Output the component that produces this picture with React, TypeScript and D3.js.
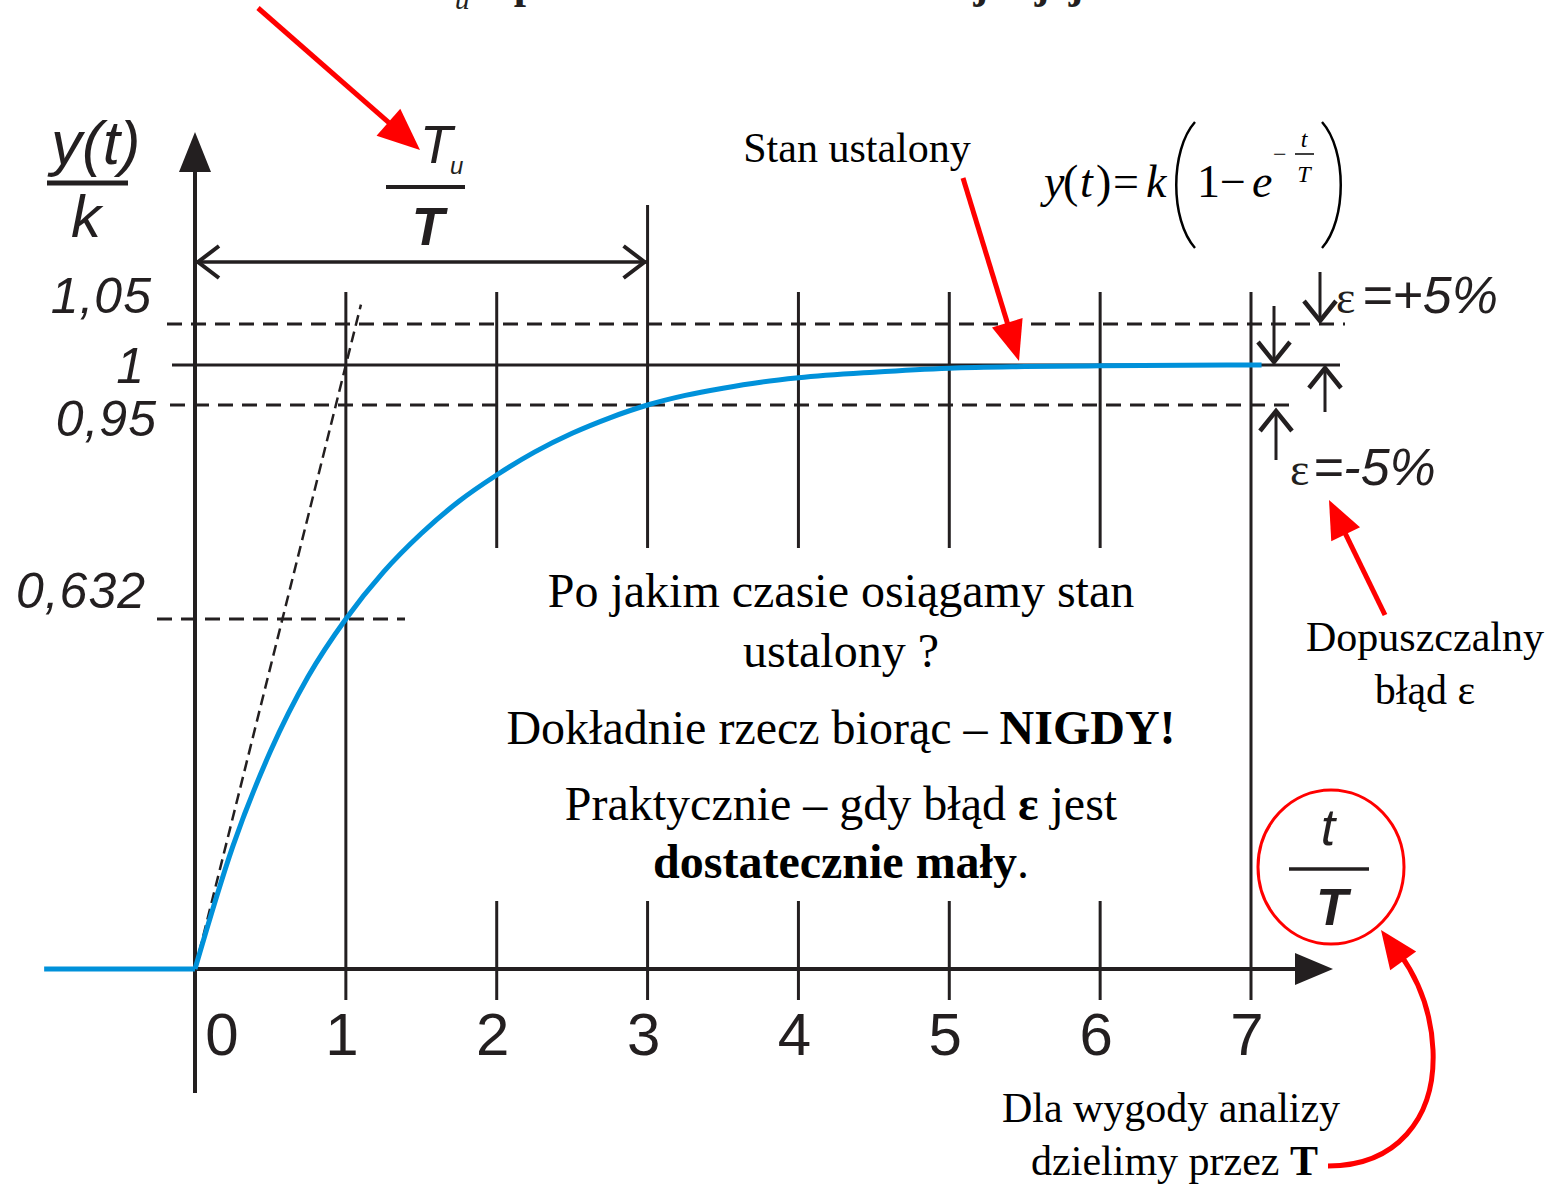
import React from 'react';
import * as d3 from 'd3';

// time axis, in multiples of the time constant T
const tTicks = [0, 1, 2, 3, 4, 5, 6, 7];
const tTickLabels = ['0', '1', '2', '3', '4', '5', '6', '7'];

// levels marked on the y/k axis
const yLevels = [0, 0.632, 0.95, 1, 1.05];
const yLevelLabels = ['', '0,632', '0,95', '1', '1,05'];

// step response y(t)/k of a first-order element
const respT = [0, 0.25, 0.5, 0.75, 1, 1.25, 1.5, 1.75, 2, 2.25, 2.5, 2.75, 3, 3.25, 3.5, 3.75, 4, 4.5, 5, 5.5, 6, 7, 7.07];
const respY = [0, 0.221, 0.393, 0.528, 0.632, 0.702, 0.759, 0.807, 0.846, 0.88, 0.908, 0.931, 0.95, 0.962, 0.971, 0.9785, 0.984, 0.991, 0.996, 0.998, 0.999, 1.0, 1.0];

// input before the step (t < 0)
const preT = [-1, 0];
const preY = [0, 0];

// settling time span shown with the bracket (in units of T)
const settleT = 3;

const INK = '#231f20';
const BLUE = '#0091da';
const RED = '#ff0000';
const SERIF = '"Liberation Serif", "Times New Roman", serif';
const SANS = '"Liberation Sans", Arial, sans-serif';

function arrowHead(tipX: number, tipY: number, fromX: number, fromY: number, len: number, half: number) {
  const dx = tipX - fromX;
  const dy = tipY - fromY;
  const d = Math.hypot(dx, dy);
  const ux = dx / d;
  const uy = dy / d;
  const bx = tipX - ux * len;
  const by = tipY - uy * len;
  return `M${tipX},${tipY}L${bx - uy * half},${by + ux * half}L${bx + uy * half},${by - ux * half}Z`;
}

function RedArrow({ x1, y1, x2, y2, len = 40, half = 17 }: any) {
  const d = Math.hypot(x2 - x1, y2 - y1);
  const ex = x2 - ((x2 - x1) / d) * (len - 4);
  const ey = y2 - ((y2 - y1) / d) * (len - 4);
  return (
    <g>
      <line x1={x1} y1={y1} x2={ex} y2={ey} stroke={RED} strokeWidth={5} />
      <path d={arrowHead(x2, y2, x1, y1, len, half)} fill={RED} />
    </g>
  );
}

// open "V" arrow used for the error band markers
function Chevron({ x, y, dir, arm = 16, rise = 20 }: any) {
  const s = dir === 'down' ? -1 : 1;
  return (
    <polyline
      points={`${x - arm},${y + s * rise} ${x},${y} ${x + arm},${y + s * rise}`}
      fill="none"
      stroke={INK}
      strokeWidth={4.5}
    />
  );
}

export default function App() {
  const x = d3.scaleLinear().domain([0, 7]).range([195, 1251]);
  const y = d3.scaleLinear().domain(yLevels).range([969, 619, 405, 365, 324]);

  const line = d3
    .line<number>()
    .x((_, i) => x(respT[i]))
    .y((v) => y(v))
    .curve(d3.curveMonotoneX);
  const curvePath = line(respY) || '';

  const x0 = x(0);
  const y0 = y(0);
  const yOne = y(1);

  // tangent at the origin reaches the steady state after one time constant
  const tanEndT = 1.1;
  const tanX2 = x0 + (x(1) - x0) * tanEndT;
  const tanY2 = y0 + (yOne - y0) * tanEndT;

  const gridTop = 292;
  const gapTop = 548;
  const gapBottom = 901;
  const tickBottom = 1000;

  const dash = '15 9';

  return (
    <svg
      width={1562}
      height={1187}
      style={{ position: 'absolute', left: 0, top: 0, background: '#fff' }}
      fontFamily={SERIF}
    >
      <rect width={1562} height={1187} fill="#fff" />

      {/* heading line running off the top edge */}
      <text x={424} y={-2} fontFamily={SERIF} fontSize={46} fontWeight="bold" fill={INK}>
        <tspan>T</tspan>
        <tspan fontStyle="italic" fontWeight="normal" fontSize={30} dy={11}>u</tspan>
        <tspan dy={-11} fontSize={44}> – przedział czasu do reakcji i jej ustalenia</tspan>
      </text>

      {/* vertical lines at multiples of T */}
      {tTicks.slice(1).map((t) => {
        const full = t === 1 || t === 7;
        const top = t === settleT ? 205 : gridTop;
        return full ? (
          <line key={t} x1={x(t)} x2={x(t)} y1={top} y2={tickBottom} stroke={INK} strokeWidth={3} />
        ) : (
          <g key={t}>
            <line x1={x(t)} x2={x(t)} y1={top} y2={gapTop} stroke={INK} strokeWidth={3} />
            <line x1={x(t)} x2={x(t)} y1={gapBottom} y2={tickBottom} stroke={INK} strokeWidth={3} />
          </g>
        );
      })}

      {/* horizontal reference levels */}
      <line x1={167} x2={1345} y1={y(1.05)} y2={y(1.05)} stroke={INK} strokeWidth={3} strokeDasharray={dash} />
      <line x1={172} x2={1340} y1={yOne} y2={yOne} stroke={INK} strokeWidth={3} />
      <line x1={170} x2={1295} y1={y(0.95)} y2={y(0.95)} stroke={INK} strokeWidth={3} strokeDasharray={dash} />
      <line x1={157} x2={405} y1={y(0.632)} y2={y(0.632)} stroke={INK} strokeWidth={3} strokeDasharray={dash} />

      {/* tangent at t = 0 */}
      <line x1={x0} y1={y0} x2={tanX2} y2={tanY2} stroke={INK} strokeWidth={2.5} strokeDasharray="11 6" />

      {/* axes */}
      <line x1={x0} x2={x0} y1={168} y2={1093} stroke={INK} strokeWidth={4} />
      <path d={arrowHead(x0, 132, x0, 300, 40, 16)} fill={INK} />
      <line x1={x0} x2={1298} y1={y0} y2={y0} stroke={INK} strokeWidth={4} />
      <path d={arrowHead(1333, y0, 1000, y0, 38, 16)} fill={INK} />

      {/* response */}
      <line x1={x(preT[0])} x2={x(preT[1])} y1={y(preY[0])} y2={y(preY[1])} stroke={BLUE} strokeWidth={5} />
      <path d={curvePath} fill="none" stroke={BLUE} strokeWidth={5} />

      {/* T_u bracket */}
      <line x1={x0} x2={x(settleT)} y1={262} y2={262} stroke={INK} strokeWidth={3.5} />
      <polyline points={`${x0 + 24},${262 - 16} ${x0 + 3},262 ${x0 + 24},${262 + 16}`} fill="none" stroke={INK} strokeWidth={4} />
      <polyline points={`${x(settleT) - 24},${262 - 16} ${x(settleT) - 3},262 ${x(settleT) - 24},${262 + 16}`} fill="none" stroke={INK} strokeWidth={4} />

      {/* T_u / T label */}
      <text x={420} y={163} fontFamily={SANS} fontStyle="italic" fontSize={53} fill={INK}>T</text>
      <text x={450} y={174} fontFamily={SANS} fontStyle="italic" fontSize={24} fill={INK}>u</text>
      <line x1={386} x2={465} y1={187} y2={187} stroke={INK} strokeWidth={4} />
      <text x={428} y={245} textAnchor="middle" fontFamily={SANS} fontStyle="italic" fontWeight="bold" fontSize={53} fill={INK}>T</text>

      {/* y(t)/k label */}
      <text x={51} y={164} fontFamily={SANS} fontStyle="italic" fontSize={62} fill={INK}>y(t)</text>
      <line x1={47} x2={128} y1={183} y2={183} stroke={INK} strokeWidth={5} />
      <text x={86} y={237} textAnchor="middle" fontFamily={SANS} fontStyle="italic" fontSize={60} fill={INK}>k</text>

      {/* y level labels */}
      {yLevels.map((v, i) =>
        yLevelLabels[i] ? (
          <text
            key={v}
            x={v === 1 ? 145 : v === 0.95 ? 157 : v === 1.05 ? 152 : 146}
            y={v === 1 ? 383 : v === 0.95 ? 436 : v === 1.05 ? 313 : 608}
            textAnchor="end"
            fontFamily={SANS}
            fontStyle="italic"
            fontSize={50}
            letterSpacing={1}
            fill={INK}
          >
            {yLevelLabels[i]}
          </text>
        ) : null
      )}

      {/* x tick labels */}
      {tTicks.map((t, i) => (
        <text
          key={t}
          x={t === 0 ? x(t) + 27 : x(t) - 4}
          y={1055}
          textAnchor="middle"
          fontFamily={SANS}
          fontSize={60}
          fill={INK}
        >
          {tTickLabels[i]}
        </text>
      ))}

      {/* steady state note */}
      <text x={857} y={162} textAnchor="middle" fontSize={42} fill="#000">Stan ustalony</text>
      <RedArrow x1={963} y1={178} x2={1019} y2={361} len={40} half={16} />

      {/* formula */}
      <text y={197} fontSize={46} fill="#000">
        <tspan x={1044} fontStyle="italic">y</tspan>
        <tspan x={1063}>(</tspan>
        <tspan x={1080} fontStyle="italic">t</tspan>
        <tspan x={1096}>)</tspan>
        <tspan x={1113}>=</tspan>
        <tspan x={1146} fontStyle="italic">k</tspan>
        <tspan x={1197}>1</tspan>
        <tspan x={1220}>−</tspan>
        <tspan x={1252} fontStyle="italic">e</tspan>
      </text>
      <path d="M1195,122 C1170,150 1170,220 1195,248" fill="none" stroke="#000" strokeWidth={2.5} />
      <path d="M1322,122 C1347,150 1347,220 1322,248" fill="none" stroke="#000" strokeWidth={2.5} />
      <text x={1273} y={162} fontSize={24} fill="#000">−</text>
      <text x={1304} y={147} textAnchor="middle" fontSize={24} fontStyle="italic" fill="#000">t</text>
      <line x1={1295} x2={1314} y1={154} y2={154} stroke="#000" strokeWidth={1.5} />
      <text x={1304} y={182} textAnchor="middle" fontSize={24} fontStyle="italic" fill="#000">T</text>

      {/* error band markers */}
      <line x1={1320} x2={1320} y1={272} y2={318} stroke={INK} strokeWidth={3} />
      <Chevron x={1320} y={321} dir="down" />
      <line x1={1274} x2={1274} y1={306} y2={359} stroke={INK} strokeWidth={3} />
      <Chevron x={1274} y={362} dir="down" />
      <line x1={1325} x2={1325} y1={412} y2={371} stroke={INK} strokeWidth={3} />
      <Chevron x={1325} y={368} dir="up" />
      <line x1={1276} x2={1276} y1={460} y2={414} stroke={INK} strokeWidth={3} />
      <Chevron x={1276} y={411} dir="up" />

      <text x={1336} y={313} fontSize={46} fill={INK}>ε</text>
      <text x={1362} y={313} fontFamily={SANS} fontStyle="italic" fontSize={52} fill={INK}>=+5%</text>
      <text x={1290} y={485} fontSize={46} fill={INK}>ε</text>
      <text x={1313} y={485} fontFamily={SANS} fontStyle="italic" fontSize={52} fill={INK}>=-5%</text>

      <RedArrow x1={1385} y1={615} x2={1329} y2={500} len={38} half={16} />
      <text x={1425} y={651} textAnchor="middle" fontSize={42} fill="#000">Dopuszczalny</text>
      <text x={1425} y={704} textAnchor="middle" fontSize={42} fill="#000">błąd ε</text>

      {/* central question */}
      <g fontSize={48} fill="#000" textAnchor="middle">
        <text x={841} y={607}>Po jakim czasie osiągamy stan</text>
        <text x={841} y={667}>ustalony ?</text>
        <text x={841} y={744}>
          Dokładnie rzecz biorąc – <tspan fontWeight="bold">NIGDY!</tspan>
        </text>
        <text x={841} y={820}>
          Praktycznie – gdy błąd <tspan fontWeight="bold">ε</tspan> jest
        </text>
        <text x={841} y={878}>
          <tspan fontWeight="bold">dostatecznie mały</tspan>.
        </text>
      </g>

      {/* t/T label in the circle */}
      <ellipse cx={1331} cy={867} rx={73} ry={77} fill="none" stroke={RED} strokeWidth={3} />
      <text x={1328} y={845} textAnchor="middle" fontFamily={SANS} fontStyle="italic" fontSize={52} fill={INK}>t</text>
      <line x1={1289} x2={1369} y1={869} y2={869} stroke={INK} strokeWidth={3.5} />
      <text x={1332} y={925} textAnchor="middle" fontFamily={SANS} fontStyle="italic" fontWeight="bold" fontSize={52} fill={INK}>T</text>

      {/* note about normalising time */}
      <text x={1171} y={1122} textAnchor="middle" fontSize={42} fill="#000">Dla wygody analizy</text>
      <text x={1318} y={1175} textAnchor="end" fontSize={42} fill="#000">
        dzielimy przez <tspan fontWeight="bold">T</tspan>
      </text>
      <path
        d="M1328,1166 C1395,1166 1436,1120 1433,1050 C1431,1005 1415,975 1400,954"
        fill="none"
        stroke={RED}
        strokeWidth={5}
      />
      <path d={arrowHead(1381, 930, 1404, 962, 38, 16)} fill={RED} />

      {/* pointer from the heading to T_u */}
      <RedArrow x1={258} y1={8} x2={420} y2={150} len={42} half={18} />
    </svg>
  );
}
